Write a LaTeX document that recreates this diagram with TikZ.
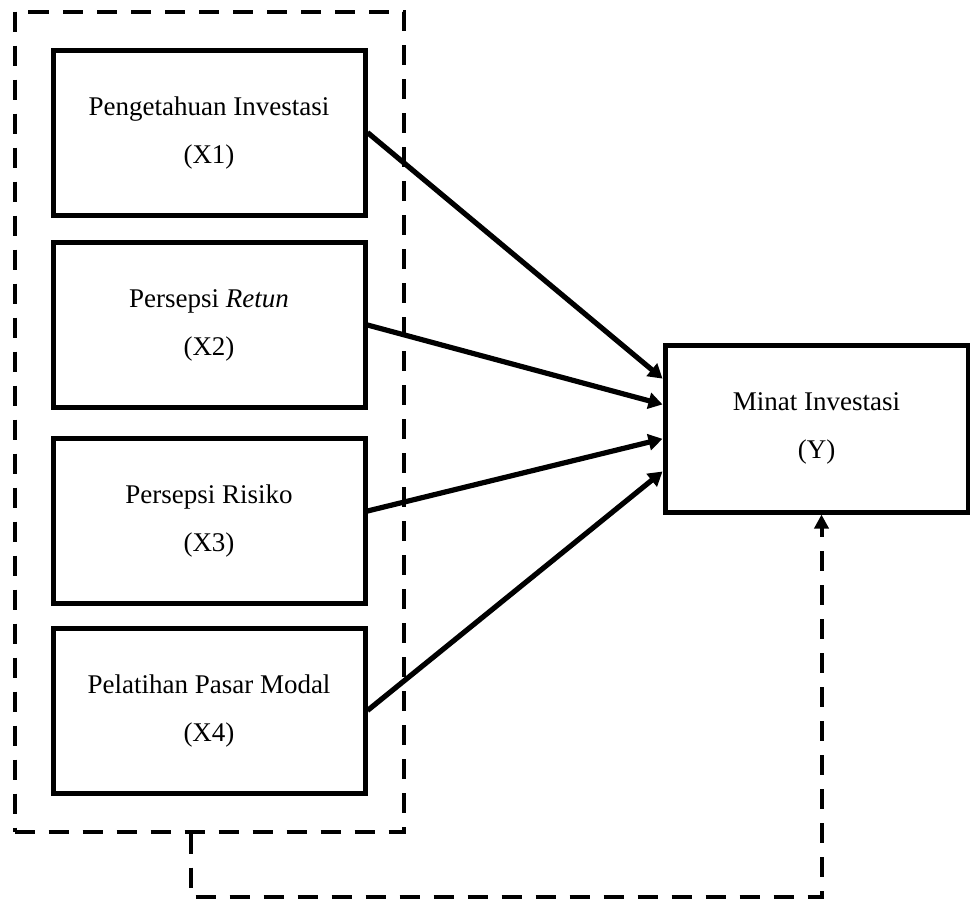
\documentclass[tikz,border=0pt]{standalone}
\usepackage{fontspec}
\setmainfont{Liberation Serif}
\usetikzlibrary{arrows.meta,calc,fit}
\tikzset{
  varbox/.style={draw, line width=2.5pt, minimum width=156pt, minimum height=82.5pt,
    align=center, inner sep=0pt, font=\fontsize{13.5}{24}\selectfont},
  link/.style={line width=2.6pt, -{Triangle[length=7pt,width=8pt]}},
  dashline/.style={line width=2pt, dash pattern=on 10pt off 7pt}
}
\begin{document}
\begin{tikzpicture}[x=0.5pt,y=-0.5pt]
		\useasboundingbox (0,0) rectangle (970,901);
		
		% Independent variables
		\node[varbox] (x1) at (209,132.5) {Pengetahuan Investasi\\(X1)};
		\node[varbox] (x2) at (209,325) {Persepsi \textit{Retun}\\(X2)};
		\node[varbox] (x3) at (209,521) {Persepsi Risiko\\(X3)};
		\node[varbox] (x4) at (209,710.5) {Pelatihan Pasar Modal\\(X4)};
		
		% Dependent variable
		\node[varbox, minimum width=151.5pt, minimum height=83.5pt] (y) at (816.5,428.5) {Minat Investasi\\(Y)};
		
		% Group of X variables
		\node[dashline, draw, inner sep=18pt, fit=(x1)(x4)] (grp) {};
		
		% Partial effects
		\draw[link] (x1.east) -- ($(y.north west)!0.21!(y.south west)$);
		\draw[link] (x2.east) -- ($(y.north west)!0.36!(y.south west)$);
		\draw[link] ([yshift=5pt]x3.east) -- ($(y.north west)!0.56!(y.south west)$);
		\draw[link] (x4.east) -- ($(y.north west)!0.75!(y.south west)$);
		
		% Simultaneous effect
		\draw[dashline, -{Triangle[length=7pt,width=7pt]}] ([xshift=-9.25pt]grp.south) -- ++(0,63) -| ([xshift=2.5pt]y.south);
	\end{tikzpicture}
\end{document}
